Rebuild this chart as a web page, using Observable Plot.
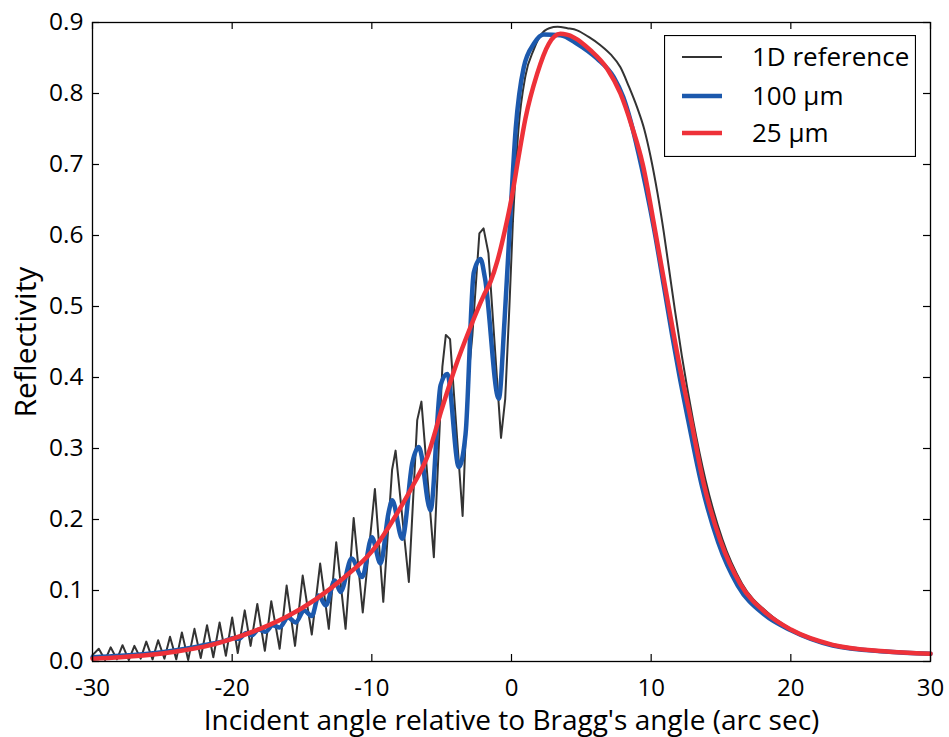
<!DOCTYPE html>
<html>
<head>
<meta charset="utf-8">
<script src="https://cdn.jsdelivr.net/npm/d3@7"></script>
<script src="https://cdn.jsdelivr.net/npm/@observablehq/plot@0.6"></script>
<style>
  html, body { margin: 0; padding: 0; background: white; }
  #wrap { position: relative; width: 949px; height: 737px; font-family: "Open Sans", sans-serif; }
  #legend { position: absolute; left: 664px; top: 35px; }
</style>
</head>
<body>
<div id="wrap"></div>
<script>
// ---- data ----
const xTicks = [-30, -20, -10, 0, 10, 20, 30];
const yTicks = [0.0, 0.1, 0.2, 0.3, 0.4, 0.5, 0.6, 0.7, 0.8, 0.9];
const xLabel = "Incident angle relative to Bragg's angle (arc sec)";
const yLabel = "Reflectivity";
const seriesNames = ["1D reference", "100 µm", "25 µm"];
const seriesColors = ["#333333", "#1c59ad", "#ee3139"];

const refX = [-30.0,-29.55,-29.1,-28.7,-28.25,-27.85,-27.4,-27.0,-26.55,-26.15,-25.7,-25.3,-24.85,-24.45,-24.0,-23.6,-23.15,-22.7,-22.25,-21.8,-21.35,-20.9,-20.45,-20.0,-19.6,-19.1,-18.68,-18.2,-17.66,-17.2,-16.6,-16.1,-15.5,-14.95,-14.3,-13.7,-13.08,-12.55,-11.88,-11.3,-10.65,-9.78,-9.18,-8.55,-8.3,-7.35,-6.75,-6.45,-5.56,-4.95,-4.7,-4.4,-3.5,-3.15,-2.8,-2.3,-2.0,-1.65,-0.75,-0.45,-0.15,0.1,0.5,1.0,1.6,2.08,2.7,3.3,4.0,4.7,5.5,6.37,7.1,7.8,8.4,9.0,9.5,9.95,10.45,10.9,11.3,11.7,12.2,13.0,13.9,15.1,16.5,18.4,20.0,23.0,26.7,30.0];
const refY = [0.009,0.018,0.002,0.020,0.003,0.023,0.002,0.022,0.004,0.028,0.003,0.030,0.004,0.035,0.003,0.041,0.002,0.046,0.005,0.051,0.006,0.055,0.008,0.062,0.012,0.072,0.022,0.081,0.015,0.085,0.018,0.107,0.022,0.121,0.038,0.138,0.046,0.168,0.046,0.202,0.069,0.243,0.084,0.270,0.297,0.112,0.340,0.366,0.147,0.415,0.460,0.454,0.205,0.386,0.460,0.603,0.610,0.575,0.315,0.370,0.500,0.620,0.750,0.825,0.862,0.882,0.892,0.894,0.892,0.889,0.880,0.868,0.855,0.837,0.810,0.780,0.750,0.712,0.660,0.605,0.550,0.495,0.430,0.340,0.255,0.172,0.110,0.068,0.046,0.024,0.0145,0.011];

const um100X = [-30,-28,-26,-24,-22.5,-21.5,-20.5,-19.9,-19.5,-19.0,-18.6,-18.1,-17.6,-17.1,-16.6,-16.0,-15.45,-14.85,-14.3,-13.8,-13.3,-12.65,-12.24,-11.45,-10.69,-10.0,-9.38,-8.8,-8.54,-7.82,-7.1,-6.63,-5.8,-5.08,-4.6,-3.77,-3.29,-2.7,-2.22,-1.9,-0.91,-0.5,-0.1,0.3,0.88,1.6,2.31,3.5,4.7,6.13,7.32,8.0,8.52,9.1,9.6,10.2,10.9,11.5,12.0,12.65,13.6,14.8,16.2,18.1,20.0,23.0,26.7,30.0];
const um100Y = [0.006,0.008,0.011,0.016,0.021,0.025,0.029,0.033,0.032,0.040,0.037,0.045,0.042,0.051,0.048,0.062,0.055,0.072,0.064,0.093,0.079,0.114,0.098,0.145,0.119,0.175,0.138,0.210,0.227,0.173,0.280,0.302,0.213,0.389,0.405,0.274,0.320,0.548,0.567,0.540,0.370,0.480,0.620,0.750,0.837,0.870,0.883,0.882,0.870,0.849,0.823,0.795,0.762,0.715,0.670,0.610,0.530,0.460,0.405,0.340,0.250,0.168,0.107,0.066,0.044,0.0225,0.014,0.011];

const um25X = [-30,-28,-26,-24,-22,-20,-18,-16,-14,-12,-10,-8,-7,-6,-5,-4,-3,-2,-1.5,-1,-0.5,0,0.5,1,1.84,2.67,3.5,4.46,5.65,6.85,7.8,8.6,9.4,10.3,11.25,12.0,12.81,13.77,14.96,16.39,18.3,20,23,26.7,30];
const um25Y = [0.004,0.006,0.009,0.014,0.021,0.032,0.046,0.064,0.088,0.118,0.155,0.215,0.250,0.290,0.355,0.416,0.468,0.515,0.535,0.565,0.605,0.652,0.710,0.765,0.828,0.870,0.884,0.879,0.861,0.835,0.800,0.755,0.700,0.605,0.500,0.420,0.344,0.250,0.170,0.109,0.067,0.045,0.0235,0.0145,0.011];

// ---- build tables ----
const zip = (xs, ys) => xs.map((x, i) => ({x, y: ys[i]}));
const ref = zip(refX, refY);
const d100 = zip(um100X, um100Y);
const d25 = zip(um25X, um25Y);
const refOsc = ref.filter(d => d.x <= 0.1);
const refSmooth = ref.filter(d => d.x >= 0.1);

const W = 949, H = 737;
const mL = 92, mR = 19, mT = 22, mB = 76;
const fw = W - mL - mR, fh = H - mT - mB;
const tl = 7;

const chart = Plot.plot({
  width: W, height: H,
  marginLeft: mL, marginRight: mR, marginTop: mT, marginBottom: mB,
  style: {fontFamily: "'Open Sans', sans-serif", fontSize: "24px", color: "black", background: "white", overflow: "visible"},
  x: {domain: [-30, 30]},
  y: {domain: [0, 0.9]},
  marks: [
    Plot.line(refOsc, {x: "x", y: "y", stroke: seriesColors[0], strokeWidth: 2, strokeLinejoin: "round"}),
    Plot.line(refSmooth, {x: "x", y: "y", stroke: seriesColors[0], strokeWidth: 2, curve: "monotone-x"}),
    Plot.line(d100, {x: "x", y: "y", stroke: seriesColors[1], strokeWidth: 4.5, curve: "monotone-x"}),
    Plot.line(d25, {x: "x", y: "y", stroke: seriesColors[2], strokeWidth: 4.5, curve: "monotone-x"}),
    Plot.frame({stroke: "black", strokeWidth: 1.3}),
    Plot.tickX(xTicks, {x: d => d, insetTop: fh - tl, stroke: "black", strokeWidth: 1.2}),
    Plot.tickX(xTicks, {x: d => d, insetBottom: fh - tl, stroke: "black", strokeWidth: 1.2}),
    Plot.tickY(yTicks, {y: d => d, insetRight: fw - tl, stroke: "black", strokeWidth: 1.2}),
    Plot.tickY(yTicks, {y: d => d, insetLeft: fw - tl, stroke: "black", strokeWidth: 1.2}),
    Plot.axisX(xTicks, {tickSize: 0, tickPadding: 17, tickFormat: d => String(d), fontSize: 24, label: null}),
    Plot.axisY(yTicks, {tickSize: 0, tickPadding: 9, tickFormat: d => d.toFixed(1), fontSize: 24.5, label: null}),
    Plot.text([xLabel], {text: d => d, frameAnchor: "bottom", dy: 60, fontSize: 28, lineAnchor: "middle"}),
    Plot.text([yLabel], {text: d => d, frameAnchor: "left", dx: -66, rotate: -90, fontSize: 30, textAnchor: "middle", lineAnchor: "middle"})
  ]
});

const wrap = document.getElementById("wrap");
wrap.appendChild(chart);

// ---- legend (overlay inside the frame) ----
const lw = 252, lh = 122;
const leg = d3.select(wrap).append("svg")
  .attr("id", "legend").attr("width", lw).attr("height", lh)
  .style("font-family", "'Open Sans', sans-serif");
leg.append("rect").attr("x", 0.5).attr("y", 0.5).attr("width", lw - 1).attr("height", lh - 1)
  .attr("fill", "white").attr("stroke", "black").attr("stroke-width", 1.2);
const rowY = [22, 61, 98];
const rowW = [2, 4.5, 4.5];
seriesNames.forEach((name, i) => {
  leg.append("line").attr("x1", 18).attr("x2", 58).attr("y1", rowY[i]).attr("y2", rowY[i])
    .attr("stroke", seriesColors[i]).attr("stroke-width", rowW[i]);
  leg.append("text").attr("x", 88).attr("y", rowY[i]).attr("dy", "0.35em")
    .attr("font-size", 26).attr("fill", "black").text(name);
});
</script>
</body>
</html>
